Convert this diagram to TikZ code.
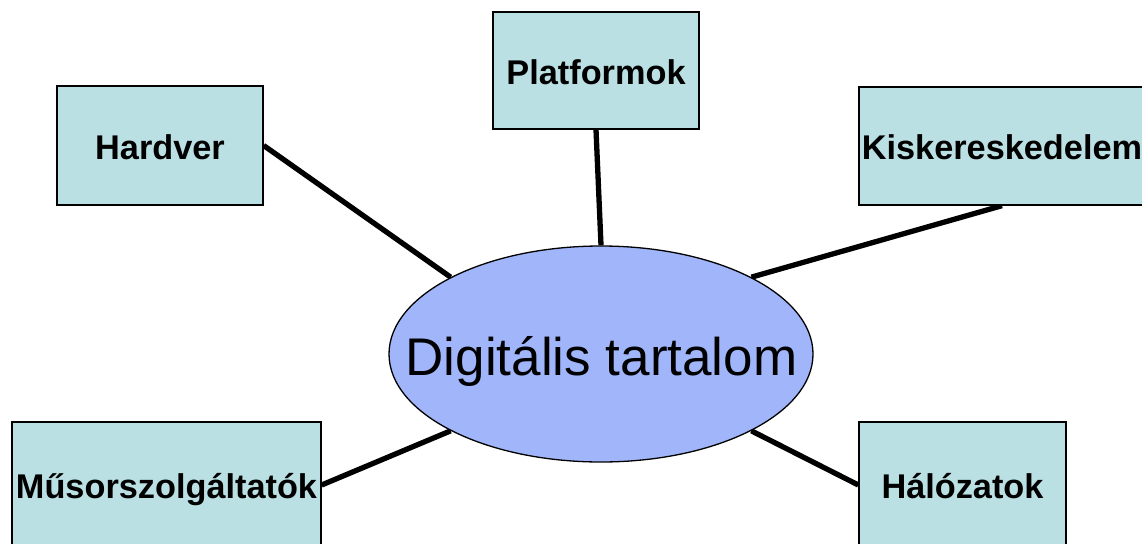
\documentclass[tikz,border=0pt]{standalone}
\usepackage{fontspec}
\setmainfont{Liberation Sans}
\usetikzlibrary{shapes.geometric,backgrounds}
\definecolor{boxfill}{RGB}{187,224,227}
\definecolor{ellfill}{RGB}{160,181,250}
\begin{document}
\begin{tikzpicture}[x=1pt,y=-1pt,
  box/.style={draw=black, line width=1.3pt, fill=boxfill, inner sep=0pt,
    text height=27pt, text depth=0pt,
    font=\bfseries\fontsize{34.3}{40}\selectfont},
  link/.style={line width=5.3pt}]
\useasboundingbox (0,0) rectangle (1142,543);
\clip (0,0) rectangle (1142,543);
\node[ellipse, draw=black, line width=1.3pt, fill=ellfill, minimum width=424pt,
  minimum height=216pt, inner sep=0pt] (c) at (601,354) {};
\node[font=\fontsize{53}{60}\selectfont, anchor=base, inner sep=0pt] (ct) at (601.5,375) {Digitális tartalom};
\node[box, minimum width=206pt, minimum height=119pt] (hw) at (160,145.5) {Hardver};
\node[box, minimum width=206pt, minimum height=117pt] (pf) at (596,70.5) {Platformok};
\node[box, minimum width=286pt, minimum height=118pt] (ks) at (1002,146) {Kiskereskedelem};
\node[box, minimum width=309pt, minimum height=126pt] (ms) at (166.5,485) {Műsorszolgáltatók};
\node[box, minimum width=207pt, minimum height=126pt] (hl) at (962.5,485) {Hálózatok};
\begin{pgfonlayer}{background}
\draw[link] (hw.east) -- (c.north west);
\draw[link] (pf.south) -- (c.north);
\draw[link] (ks.south) -- (c.north east);
\draw[link] (ms.east) -- (c.south west);
\draw[link] (hl.west) -- (c.south east);
\end{pgfonlayer}
\end{tikzpicture}
\end{document}
